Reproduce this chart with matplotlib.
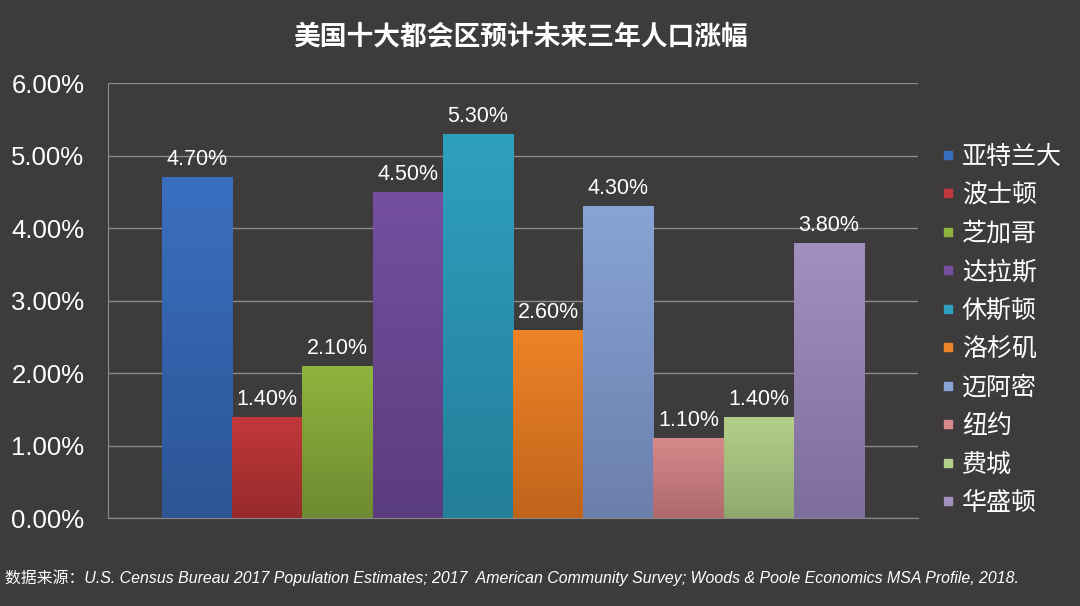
import matplotlib
matplotlib.use("Agg")
import matplotlib.pyplot as plt
import numpy as np
from matplotlib.colors import LinearSegmentedColormap
from matplotlib.lines import Line2D

plt.rcParams['font.family'] = ['Liberation Sans', 'Noto Sans CJK SC', 'DejaVu Sans']

# data
cities = ['亚特兰大', '波士顿', '芝加哥', '达拉斯', '休斯顿', '洛杉矶', '迈阿密', '纽约', '费城', '华盛顿']
growth = [4.70, 1.40, 2.10, 4.50, 5.30, 2.60, 4.30, 1.10, 1.40, 3.80]
top_colors = ['#3a6fc0', '#c3383a', '#8fb43e', '#74509f', '#2ea0bf', '#ee8327', '#87a4d6', '#d6898b', '#b3d08a', '#a290c0']
bottom_colors = ['#2c5595', '#962a2b', '#6e8a31', '#5a3d7e', '#237e99', '#c0641b', '#6b7fab', '#ae6a6c', '#90a86e', '#7e6e9c']
title = '美国十大都会区预计未来三年人口涨幅'
source = '数据来源：U.S. Census Bureau 2017 Population Estimates; 2017  American Community Survey; Woods & Poole Economics MSA Profile, 2018.'

bg = '#3d3b3c'
fig = plt.figure(figsize=(10.8, 6.06), dpi=100, facecolor=bg)
ax = fig.add_axes([0.1, 0.1452, 0.75, 0.7178])
ax.set_facecolor(bg)

x = np.arange(len(cities))
bars = ax.bar(x, growth, width=1.0, color=top_colors, zorder=2)

# vertical gradient inside each bar
for b, c_top, c_bot in zip(bars, top_colors, bottom_colors):
    cmap = LinearSegmentedColormap.from_list('g', [c_bot, c_top])
    x0, w, h = b.get_x(), b.get_width(), b.get_height()
    grad = np.linspace(0, 1, 256).reshape(-1, 1)
    im = ax.imshow(grad, cmap=cmap, origin='lower', aspect='auto',
                   extent=[x0, x0 + w, 0, h], zorder=3)
    im.set_clip_path(b)

for xi, v in zip(x, growth):
    ax.annotate(f'{v:.2f}%', (xi, v), xytext=(0, 5), textcoords='offset points',
                ha='center', va='bottom', color='white', fontsize=15.5, zorder=5)

gap = 0.77
ax.set_xlim(-0.5 - gap, len(cities) - 0.5 + gap)
ax.set_ylim(0, 6)
ax.set_yticks(np.arange(0, 7, 1))
ax.set_yticklabels([f'{t:.2f}%' for t in range(7)])
ax.set_xticks([])
ax.tick_params(axis='y', length=0, pad=17, labelsize=18.5, labelcolor='white')
ax.grid(axis='y', color='#8c8a8b', linewidth=1, zorder=0)
ax.set_axisbelow(True)
for s in ['top', 'right']:
    ax.spines[s].set_visible(False)
ax.spines['left'].set_color('#8c8a8b')
ax.spines['bottom'].set_color('#8c8a8b')

handles = [Line2D([], [], linestyle='none', marker='s', markersize=6,
                  markerfacecolor=c, markeredgecolor=c) for c in top_colors]
leg = fig.legend(handles, cities, loc='upper left', bbox_to_anchor=(0.85, 0.8),
                 frameon=False, labelcolor='white',
                 handlelength=0.6, handletextpad=0.25, labelspacing=0.5,
                 prop={'family': ['Noto Sans CJK SC', 'DejaVu Sans'], 'size': 18})

fig.text(0.482, 0.938, title, ha='center', va='center', color='white',
         fontsize=19.3, fontweight='bold', family=['Noto Sans CJK SC', 'DejaVu Sans'])
fig.text(0.005, 0.046, source, ha='left', va='center', color='white',
         fontsize=11.4, style='italic', family=['Liberation Sans', 'Noto Sans CJK SC'])

fig.savefig('out.png', dpi=100, facecolor=bg)
